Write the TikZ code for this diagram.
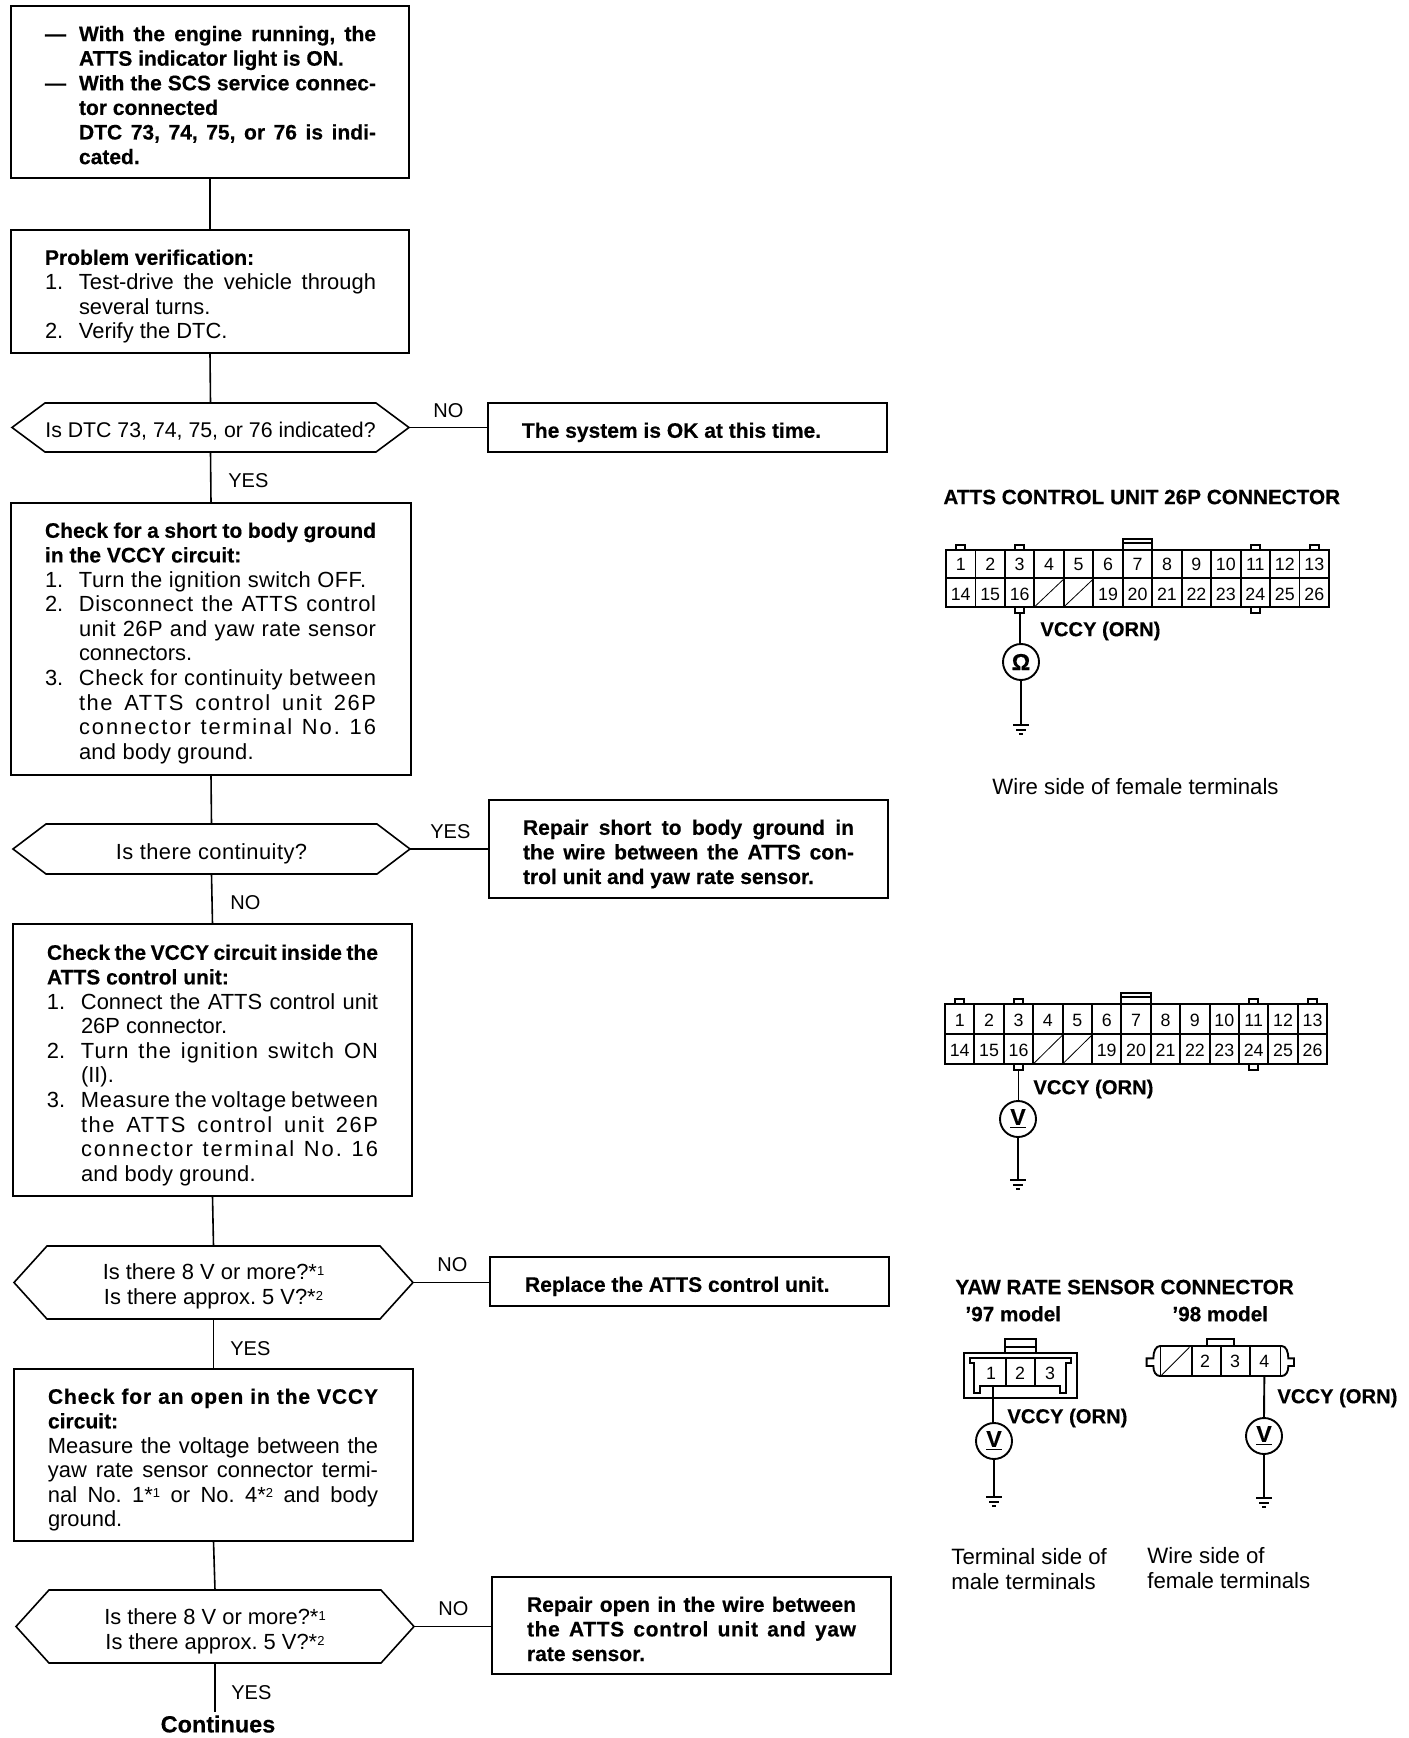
\documentclass[tikz,border=0pt]{standalone}
\usepackage{fontspec}
\setmainfont{Liberation Sans}[BoldFeatures={Scale=0.96,FakeBold=0.4}]
\frenchspacing
\newdimen\myU \myU=0.5pt
\newcommand\mySTR{\rule[-3.3pt]{0pt}{12.3pt}}
\newcommand\myBX[6]{\vbox to #2\myU{\hsize=#1\myU\offinterlineskip\frenchspacing\def\myLi{#3\myU}\def\myRi{#4\myU}\vskip\dimexpr #5\myU-5.1pt\relax #6\vss}}
\newcommand\LnJ[1]{\hbox to\hsize{\hskip\myLi\mySTR #1\hskip\myRi}}
\newcommand\LnN[1]{\hbox to\hsize{\hskip\myLi\mySTR #1\hfil}}
\newcommand\InJ[2]{\hbox to\hsize{\hskip\myLi\mySTR\hbox to 34\myU{#1\hfil}#2\hskip\myRi}}
\newcommand\InN[2]{\hbox to\hsize{\hskip\myLi\mySTR\hbox to 34\myU{#1\hfil}#2\hfil}}
\newcommand\LnC[1]{\hbox to\hsize{\hfil\mySTR #1\hfil}}
\newcommand\LtS[2]{{\addfontfeature{LetterSpace=#1}#2}}
\newcommand\mySn[1]{*\raisebox{2.2pt}{\fontsize{6.5}{7}\selectfont #1}}
\newcommand\myHex[2]{\draw[ln] (#1.west) -- ([xshift=#2\myU]#1.north west) -- ([xshift=-#2\myU]#1.north east) -- (#1.east) -- ([xshift=-#2\myU]#1.south east) -- ([xshift=#2\myU]#1.south west) -- cycle;}
\newcommand\myGnd[1]{\draw[cl] ([xshift=-4pt]#1) -- ([xshift=4pt]#1); \draw[cl] ([xshift=-2.5pt,yshift=-2.5pt]#1) -- ([xshift=2.5pt,yshift=-2.5pt]#1); \draw[cl] ([xshift=-1pt,yshift=-4.5pt]#1) -- ([xshift=1pt,yshift=-4.5pt]#1);}
% prefix, x0, dx, ytop, ymid, ybot, row1 y, row2 y
\newcommand\PinBlock[8]{%
 \def\xz{#2}\def\dx{#3}\def\yt{#4}\def\ymm{#5}\def\yb{#6}%
 \draw[cl] (\xz,\yt) rectangle ({\xz+13*\dx},\yb);
 \draw[cl] (\xz,\ymm) -- ({\xz+13*\dx},\ymm);
 \foreach \i in {1,...,12}{\draw[cl] ({\xz+\i*\dx},\yt) -- ({\xz+\i*\dx},\yb);}
 \foreach \i in {1,...,13}{\node[pintxt] (#1p\i) at ({\xz+(\i-.5)*\dx},#7) {\i};}
 \foreach \n in {14,15,16,19,20,21,22,23,24,25,26}{\node[pintxt] (#1p\n) at ({\xz+(\n-13-.5)*\dx},#8) {\n};}
 \foreach \c in {1,3,11,13}{\draw[cl] ({\xz+(\c-.5)*\dx-4.5},\yt) -- ({\xz+(\c-.5)*\dx-4.5},\yt-5) -- ({\xz+(\c-.5)*\dx+4.5},\yt-5) -- ({\xz+(\c-.5)*\dx+4.5},\yt);}
 \foreach \c in {3,11}{\draw[cl] ({\xz+(\c-.5)*\dx-4.5},\yb) -- ({\xz+(\c-.5)*\dx-4.5},\yb+6) -- ({\xz+(\c-.5)*\dx+4.5},\yb+6) -- ({\xz+(\c-.5)*\dx+4.5},\yb);}
 \draw[cl] ({\xz+6*\dx},\yt) -- ({\xz+6*\dx},\yt-11) -- ({\xz+7*\dx},\yt-11) -- ({\xz+7*\dx},\yt);
 \draw[cl] ({\xz+6*\dx},\yt-7) -- ({\xz+7*\dx},\yt-7);
 \foreach \c in {3,4}{\draw[thin] ({\xz+\c*\dx+1},\yb-1) -- ({\xz+(\c+1)*\dx},\ymm+1);}
 \coordinate (#1wire) at ({\xz+2.5*\dx},\yb+6);
}
\tikzset{
 ln/.style={line width=0.8pt,black},
 cn/.style={line width=0.8pt,black},
 cl/.style={line width=0.95pt,black},
 fbx/.style={draw=black,line width=0.8pt,anchor=north west,inner sep=0pt,outer sep=0pt,font=\fontsize{10.95}{12.3}\selectfont},
 hexb/.style={anchor=north west,inner sep=0pt,outer sep=0pt,font=\fontsize{10.95}{12.3}\selectfont},
 lab/.style={inner sep=0pt,anchor=west,text height=7.2pt,text depth=0pt,font=\fontsize{10}{12}\selectfont},
 ttl/.style={inner sep=0pt,anchor=west,text height=7.2pt,text depth=0pt,font=\fontsize{10.8}{12}\selectfont\bfseries},
 vcc/.style={inner sep=0pt,anchor=west,text height=7.2pt,text depth=0pt,font=\fontsize{10.52}{12}\selectfont\bfseries},
 captxt/.style={inner sep=0pt,anchor=west,align=left,font=\fontsize{11.1}{12.8}\selectfont},
 pintxt/.style={inner sep=0pt,text height=6.4pt,text depth=0pt,font=\fontsize{8.9}{10}\selectfont},
 meter/.style={circle,draw=black,line width=0.95pt,inner sep=0pt,minimum size=18pt,font=\fontsize{12}{12}\selectfont\bfseries},
}
\begin{document}
\begin{tikzpicture}[x=0.5pt,y=-0.5pt]
\useasboundingbox (0,0) rectangle (1408,1738);
\fill[white] (0,0) rectangle (1408,1738);
% left column
\node[fbx] (b1) at (11,6) {\myBX{398}{172}{34}{33}{27.3}{\bfseries
 \InJ{—}{With the engine running, the}
 \InN{}{ATTS indicator light is ON.}
 \InJ{—}{With the SCS service connec-}
 \InN{}{tor connected}
 \InJ{}{DTC 73, 74, 75, or 76 is indi-}
 \InN{}{cated.}}};
\node[fbx] (b2) at (11,230) {\myBX{398}{123}{34}{33}{27}{
 \LnN{\bfseries Problem verification:}
 \InJ{1.}{Test-drive the vehicle through}
 \InN{}{several turns.}
 \InN{2.}{Verify the DTC.}}};
\node[hexb] (d1) at (12,403) {\myBX{397}{49}{0}{0}{27}{\LnC{\fontsize{10.65}{12.3}\selectfont Is DTC 73, 74, 75, or 76 indicated?}}};
\myHex{d1}{33}
\node[fbx] (r1) at (488,403) {\myBX{399}{49}{34}{34}{27}{\bfseries\LnN{The system is OK at this time.}}};
\node[fbx] (b3) at (11,503) {\myBX{400}{272}{34}{35}{27}{
 \LnJ{\bfseries Check for a short to body ground}
 \LnN{\bfseries in the VCCY circuit:}
 \InN{1.}{\LtS{2}{Turn the ignition switch OFF.}}
 \InJ{2.}{\LtS{3}{Disconnect the ATTS control}}
 \InJ{}{\LtS{2}{unit 26P and yaw rate sensor}}
 \InN{}{connectors.}
 \InJ{3.}{\LtS{3}{Check for continuity between}}
 \InJ{}{\LtS{7}{the ATTS control unit 26P}}
 \InJ{}{\LtS{9}{connector terminal No. 16}}
 \InN{}{\LtS{1.5}{and body ground.}}}};
\node[hexb] (d2) at (13,824) {\myBX{397}{50}{0}{0}{28}{\LnC{\LtS{2}{Is there continuity?}}}};
\myHex{d2}{33}
\node[fbx] (r2) at (489,800) {\myBX{399}{98}{34}{34}{27}{\bfseries
 \LnJ{Repair short to body ground in}
 \LnJ{the wire between the ATTS con-}
 \LnN{trol unit and yaw rate sensor.}}};
\node[fbx] (b4) at (13,924) {\myBX{399}{272}{34}{34}{28}{
 \LnJ{\bfseries Check the VCCY circuit inside the}
 \LnN{\bfseries ATTS control unit:}
 \InJ{1.}{Connect the ATTS control unit}
 \InN{}{26P connector.}
 \InJ{2.}{\LtS{5}{Turn the ignition switch ON}}
 \InN{}{(II).}
 \InJ{3.}{\LtS{3}{Measure the voltage between}}
 \InJ{}{\LtS{7}{the ATTS control unit 26P}}
 \InJ{}{\LtS{9}{connector terminal No. 16}}
 \InN{}{\LtS{1.5}{and body ground.}}}};
\node[hexb] (d3) at (14,1246) {\myBX{399}{73}{0}{0}{26}{
 \LnC{Is there 8 V or more?\mySn{1}}
 \LnC{Is there approx. 5 V?\mySn{2}}}};
\myHex{d3}{33}
\node[fbx] (r3) at (490,1257) {\myBX{399}{49}{35}{34}{27}{\bfseries\LnN{Replace the ATTS control unit.}}};
\node[fbx] (b5) at (14,1369) {\myBX{399}{172}{34}{35}{27}{
 \LnJ{\bfseries \LtS{4}{Check for an open in the VCCY}}
 \LnN{\bfseries circuit:}
 \LnJ{Measure the voltage between the}
 \LnJ{yaw rate sensor connector termi-}
 \LnJ{nal No. 1\mySn{1} or No. 4\mySn{2} and body}
 \LnN{ground.}}};
\node[hexb] (d4) at (16,1590) {\myBX{398}{73}{0}{0}{27}{
 \LnC{Is there 8 V or more?\mySn{1}}
 \LnC{Is there approx. 5 V?\mySn{2}}}};
\myHex{d4}{33}
\node[fbx] (r4) at (492,1577) {\myBX{399}{97}{35}{35}{27}{\bfseries
 \LnJ{Repair open in the wire between}
 \LnJ{\LtS{3}{the ATTS control unit and yaw}}
 \LnN{rate sensor.}}};
\node[inner sep=0pt,text height=8.4pt,text depth=0pt,font=\fontsize{12.2}{14}\selectfont\bfseries] (cont) at (218,1724) {Continues};
% connectors
\draw[cn] (b1.south) -- (b2.north);
\draw[cn] (b2.south) -- (d1.north);
\draw[cn] (d1.south) -- (b3.north);
\draw[cn] (b3.south) -- (d2.north);
\draw[cn] (d2.south) -- (b4.north);
\draw[cn] (b4.south) -- (d3.north);
\draw[cn] (d3.south) -- (b5.north);
\draw[cn] (b5.south) -- (d4.north);
\draw[cn] (d4.south) -- ([yshift=1.5pt]d4.south |- cont.north);
\draw[cn] (d1.east) -- (r1.west);
\draw[cn] (d2.east) -- (r2.west);
\draw[cn] (d3.east) -- (d3.east -| r3.west);
\draw[cn] (d4.east) -- (d4.east -| r4.west);
% labels
\node[lab] (l1) at (228,480) {YES};
\node[lab] (l2) at (433,410) {NO};
\node[lab] (l3) at (230,902) {NO};
\node[lab] (l4) at (430,831) {YES};
\node[lab] (l5) at (230,1348) {YES};
\node[lab] (l6) at (437,1264) {NO};
\node[lab] (l7) at (231,1692) {YES};
\node[lab] (l8) at (438,1608) {NO};
% 26P connector, first
\node[ttl] (t1) at (943,497) {ATTS CONTROL UNIT 26P CONNECTOR};
\PinBlock{a}{946}{29.46}{550}{578}{607}{564}{594}
\node[vcc] (va) at (1040,629) {VCCY (ORN)};
\node[meter] (ma) at (1021,662) {Ω};
\coordinate (ga) at (1021,725);
\draw[cl] (awire) -- (awire |- ma.north);
\draw[cl] (ma.south) -- (ga);
\myGnd{ga}
\node[captxt] (ca) at (992,787) {Wire side of female terminals};
% 26P connector, second
\PinBlock{b}{945}{29.4}{1004}{1034}{1064}{1020}{1050}
\node[vcc] (vb) at (1033,1087) {VCCY (ORN)};
\node[meter] (mb) at (1018,1119) {\underline{V}};
\coordinate (gb) at (1018,1180);
\draw[cl] (bwire) -- (bwire |- mb.north);
\draw[cl] (mb.south) -- (gb);
\myGnd{gb}
% yaw rate sensor
\node[ttl] (t2) at (955,1287) {YAW RATE SENSOR CONNECTOR};
\node[ttl] (t3) at (965,1314) {’97 model};
\node[ttl] (t4) at (1172,1314) {’98 model};
\begin{scope}[shift={(920,1260)},x=0.16667pt,y=-0.16667pt]
 % '97
 \draw[cl] (133,278) rectangle (470,415);
 \draw[cl] (255,278) -- (255,237) -- (347,237) -- (347,278);
 \draw[cl] (255,262) -- (347,262);
 \draw[cl] (150,293) -- (452,293) -- (452,310) -- (437,310) -- (437,400) -- (420,400) -- (420,378) -- (180,378) -- (180,400) -- (163,400) -- (163,310) -- (150,310) -- cycle;
 \draw[cl] (258,293) -- (258,378);
 \draw[cl] (345,293) -- (345,378);
 \node[pintxt] (y1) at (213,338) {1};
 \node[pintxt] (y2) at (300,338) {2};
 \node[pintxt] (y3) at (390,338) {3};
 \coordinate (ywa) at (220,378);
 % '98
 \draw[cl] (720,258) -- (1085,258) .. controls (1098,258) and (1105,275) .. (1105,295) -- (1122,295) -- (1122,318) -- (1105,318) .. controls (1105,335) and (1098,348) .. (1085,348) -- (720,348) .. controls (707,348) and (700,335) .. (700,318) -- (680,318) -- (680,295) -- (700,295) .. controls (700,275) and (707,258) .. (720,258) -- cycle;
 \draw[cl] (860,258) -- (860,237) -- (943,237) -- (943,258);
 \foreach \xv in {815,902,990}{\draw[cl] (\xv,258) -- (\xv,348);}
 \draw[thin] (722,258) -- (722,348);
 \draw[thin] (1082,258) -- (1082,348);
 \draw[thin] (725,345) -- (808,262);
 \node[pintxt] (z2) at (855,303) {2};
 \node[pintxt] (z3) at (945,303) {3};
 \node[pintxt] (z4) at (1033,303) {4};
 \coordinate (ywb) at (1033,348);
\end{scope}
\node[vcc] (vc) at (1007,1416) {VCCY (ORN)};
\node[meter] (mc) at (994,1441) {\underline{V}};
\coordinate (gc) at (994,1497);
\draw[cl] (ywa) -- (ywa |- mc.north);
\draw[cl] (mc.south) -- (gc);
\myGnd{gc}
\node[vcc] (vd) at (1277,1396) {VCCY (ORN)};
\node[meter] (md) at (1264,1436) {\underline{V}};
\coordinate (gd) at (1264,1498);
\draw[cl] (ywb) -- (md.north);
\draw[cl] (md.south) -- (gd);
\myGnd{gd}
\node[captxt] (ce) at (951,1569) {Terminal side of\\male terminals};
\node[captxt] (cf) at (1147,1568) {Wire side of\\female terminals};
\end{tikzpicture}
\end{document}
